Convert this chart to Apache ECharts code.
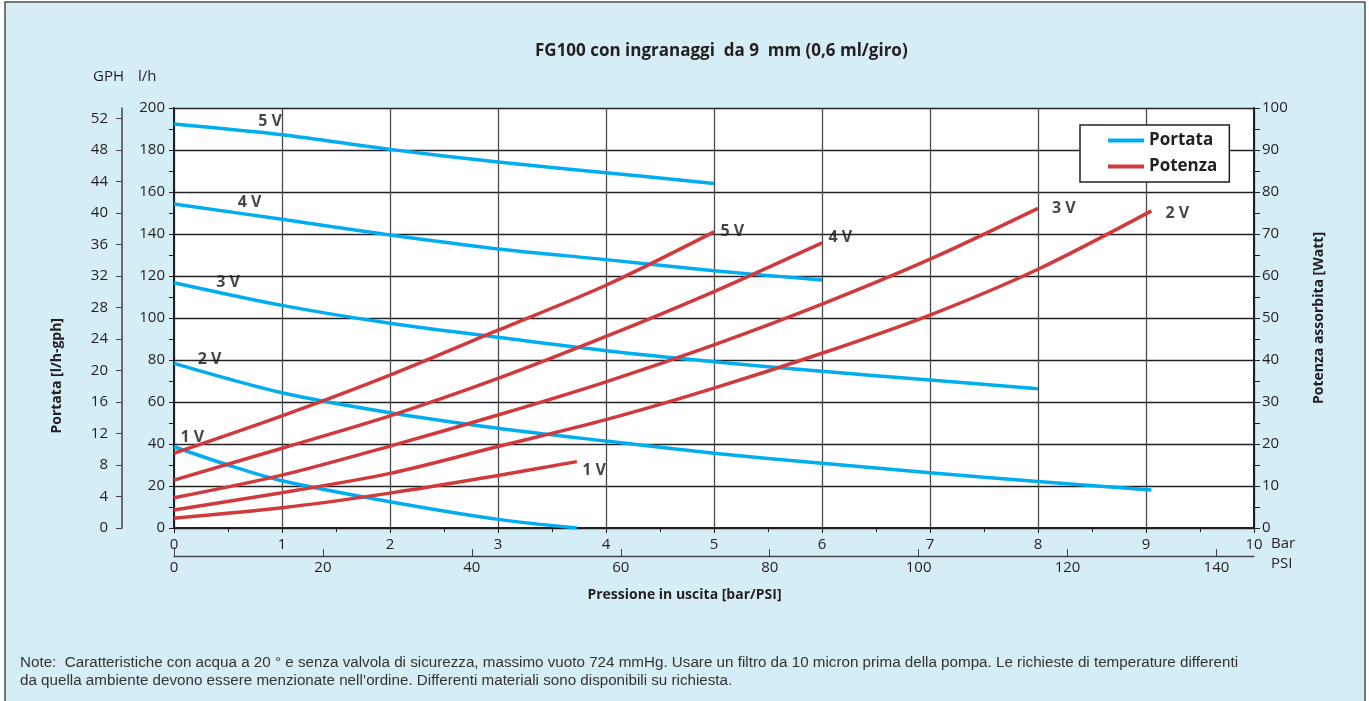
<!DOCTYPE html>
<html>
<head>
<meta charset="utf-8">
<script src="https://cdn.jsdelivr.net/npm/echarts@6/dist/echarts.min.js"></script>
<style>
html,body{margin:0;padding:0;background:#fff;}
#chart{width:1369px;height:701px;}
</style>
</head>
<body>
<div id="chart"></div>
<script>
// ---------- DATA ----------
const titleText = 'FG100 con ingranaggi  da 9  mm (0,6 ml/giro)';
const noteLine1 = 'Note:  Caratteristiche con acqua a 20 ° e senza valvola di sicurezza, massimo vuoto 724 mmHg. Usare un filtro da 10 micron prima della pompa. Le richieste di temperature differenti';
const noteLine2 = 'da quella ambiente devono essere menzionate nell’ordine. Differenti materiali sono disponibili su richiesta.';

const voltages = ['5 V', '4 V', '3 V', '2 V', '1 V'];

// Portata (l/h) vs pressure (bar)
const flowP5 = [0, 1, 2, 3, 4, 5];
const flowV5 = [192.4, 187.3, 180.3, 174.3, 169.2, 164.1];
const flowP4 = [0, 1, 2, 3, 4, 5, 6];
const flowV4 = [154.3, 147.0, 139.5, 132.9, 127.8, 122.5, 118.1];
const flowP3 = [0, 1, 2, 3, 4, 5, 6, 7, 8];
const flowV3 = [116.8, 106.0, 97.5, 90.8, 84.4, 79.2, 74.6, 70.5, 66.3];
const flowP2 = [0, 1, 2, 3, 4, 5, 6, 7, 8, 9.05];
const flowV2 = [78.4, 64.4, 54.9, 47.5, 41.4, 35.6, 30.8, 26.3, 22.1, 18.1];
const flowP1 = [0, 0.5, 1, 2, 3, 3.73];
const flowV1 = [38.7, 30.0, 22.5, 12.5, 4.1, 0];

// Potenza (W) vs pressure (bar)
const powP5 = [0, 1, 2, 3, 4, 5];
const powV5 = [17.8, 26.7, 36.4, 47.1, 57.8, 70.5];
const powP4 = [0, 1, 2, 3, 4, 5, 6];
const powV4 = [11.4, 19.0, 26.7, 35.6, 45.6, 56.3, 67.9];
const powP3 = [0, 1, 2, 3, 4, 5, 6, 7, 8];
const powV3 = [7.2, 12.6, 19.5, 26.9, 34.8, 43.6, 53.3, 64.0, 76.1];
const powP2 = [0, 1, 2, 3, 4, 5, 6, 7, 8, 9.05];
const powV2 = [4.3, 8.4, 13.0, 19.4, 25.8, 33.3, 41.6, 50.7, 61.6, 75.5];
const powP1 = [0, 1, 2, 3, 3.73];
const powV1 = [2.3, 4.8, 8.3, 12.5, 15.8];

// voltage label anchors (bar, value)
const flowLabelP = [0.89, 0.70, 0.50, 0.33, 0.17];
const flowLabelV = [193.8, 154.8, 117.1, 80.5, 42.9];
const powLabelP = [5.17, 6.17, 8.24, 9.29, 3.89];
const powLabelV = [70.7, 69.3, 76.0, 75.0, 13.8];

// axis ticks
const barMax = 10, barStep = 1;
const lhMax = 200, lhStep = 20;
const wattMax = 100, wattStep = 10;
const gphStep = 4;
const LH_PER_GAL = 3.75;
const PSI_PER_BAR = 14.5038;
const psiStep = 20;

// ---------- CHART ----------
const blue = '#00aeef';
const red = '#d03a3c';
const ink = '#231f20';
const FONT = '"Open Sans", "Liberation Sans", sans-serif';

const chart = echarts.init(document.getElementById('chart'), null, {renderer: 'canvas'});

function zip(a, b) { return a.map((x, i) => [x, b[i]]); }

const flowSets = [[flowP5, flowV5], [flowP4, flowV4], [flowP3, flowV3], [flowP2, flowV2], [flowP1, flowV1]];
const powSets = [[powP5, powV5], [powP4, powV4], [powP3, powV3], [powP2, powV2], [powP1, powV1]];

const series = [];
flowSets.forEach(s => series.push({
  name: 'Portata', type: 'line', xAxisIndex: 0, yAxisIndex: 0,
  data: zip(s[0], s[1]), smooth: 0.3, showSymbol: false, symbol: 'none',
  lineStyle: {color: blue, width: 3.5}, itemStyle: {color: blue}, z: 3
}));
powSets.forEach(s => series.push({
  name: 'Potenza', type: 'line', xAxisIndex: 0, yAxisIndex: 1,
  data: zip(s[0], s[1]), smooth: 0.3, showSymbol: false, symbol: 'none',
  lineStyle: {color: red, width: 3.5}, itemStyle: {color: red}, z: 3
}));
const labelStyle = {show: true, position: 'inside', formatter: p => p.data[2],
  fontFamily: FONT, fontWeight: 'bold', fontSize: 16, color: '#1a1718', textBorderWidth: 0};
series.push({
  name: 'flowLabels', type: 'scatter', xAxisIndex: 0, yAxisIndex: 0, symbolSize: 2,
  itemStyle: {color: 'rgba(0,0,0,0)'}, label: labelStyle, z: 5, silent: true,
  data: voltages.map((v, i) => [flowLabelP[i], flowLabelV[i], v])
});
series.push({
  name: 'powLabels', type: 'scatter', xAxisIndex: 0, yAxisIndex: 1, symbolSize: 2,
  itemStyle: {color: 'rgba(0,0,0,0)'}, label: labelStyle, z: 5, silent: true,
  data: voltages.map((v, i) => [powLabelP[i], powLabelV[i], v])
});

const axisLbl = {fontFamily: FONT, fontSize: 15, color: ink};

const option = {
  backgroundColor: '#ffffff',
  animation: false,
  textStyle: {fontFamily: FONT},
  graphic: [
    {type: 'rect', shape: {x: 5, y: 2, width: 1360, height: 720}, z: -10,
      style: {fill: '#d5eef5', stroke: '#4d4d4d', lineWidth: 1.5}},
    {type: 'text', left: 535, top: 43, z: 10,
      style: {text: titleText, font: 'bold 17px ' + FONT, fill: ink}},
    {type: 'text', left: 93, top: 69, style: {text: 'GPH', font: '15px ' + FONT, fill: ink}},
    {type: 'text', left: 138, top: 69, style: {text: 'l/h', font: '15px ' + FONT, fill: ink}},
    {type: 'text', left: 1271, top: 536, style: {text: 'Bar', font: '15px ' + FONT, fill: ink}},
    {type: 'text', left: 1271, top: 556, style: {text: 'PSI', font: '15px ' + FONT, fill: ink}},
    {type: 'text', left: 'center', top: 588, style: {text: 'Pressione in uscita [bar/PSI]', font: 'bold 14px ' + FONT, fill: ink}},
    {type: 'text', left: 50, top: 318, rotation: Math.PI / 2, originX: 0, originY: 0,
      style: {text: 'Portata [l/h-gph]', font: 'bold 14px ' + FONT, fill: ink, align: 'center', verticalAlign: 'middle'}},
    {type: 'text', left: 20, top: 655, style: {text: noteLine1, font: '15.2px "Liberation Sans", Arial, sans-serif', fill: '#333'}},
    {type: 'text', left: 20, top: 673, style: {text: noteLine2, font: '15.2px "Liberation Sans", Arial, sans-serif', fill: '#333'}}
  ],
  legend: {
    data: ['Portata', 'Potenza'], orient: 'vertical', left: 1080, top: 125,
    backgroundColor: '#fff', borderColor: ink, borderWidth: 1.5,
    padding: [7, 12, 7, 28], itemGap: 9, itemWidth: 36, itemHeight: 4, icon: 'rect',
    textStyle: {fontFamily: FONT, fontWeight: 'bold', fontSize: 17, color: ink},
    selectedMode: false
  },
  grid: {left: 174, right: 115, top: 108, bottom: 173, show: true, backgroundColor: '#fff', borderWidth: 0},
  xAxis: [
    {type: 'value', min: 0, max: barMax, interval: barStep, position: 'bottom',
      axisLine: {show: true, onZero: false, lineStyle: {color: ink, width: 2}},
      axisTick: {show: true, length: 5, lineStyle: {color: ink}},
      minorTick: {show: true, splitNumber: 2, length: 4, lineStyle: {color: ink}},
      axisLabel: Object.assign({margin: 9}, axisLbl),
      splitLine: {show: true, lineStyle: {color: '#4a4a4a', width: 1.3}}},
    {type: 'value', min: 0, max: barMax * PSI_PER_BAR, interval: psiStep, position: 'bottom', offset: 28,
      axisLine: {show: true, onZero: false, lineStyle: {color: '#444', width: 1.3}},
      axisTick: {show: true, inside: true, length: 7, lineStyle: {color: '#444'}},
      axisLabel: Object.assign({margin: 4, showMaxLabel: false}, axisLbl),
      splitLine: {show: false}}
  ],
  yAxis: [
    {type: 'value', min: 0, max: lhMax, interval: lhStep, position: 'left',
      axisLine: {show: true, onZero: false, lineStyle: {color: ink, width: 2}},
      axisTick: {show: true, length: 5, lineStyle: {color: ink}},
      minorTick: {show: true, splitNumber: 2, length: 5, lineStyle: {color: ink}},
      axisLabel: Object.assign({margin: 9}, axisLbl),
      splitLine: {show: true, lineStyle: {color: '#222', width: 1.3}}},
    {type: 'value', min: 0, max: wattMax, interval: wattStep, position: 'right',
      name: 'Potenza assorbita [Watt]', nameLocation: 'middle', nameGap: 58, nameRotate: 90,
      nameTextStyle: {fontFamily: FONT, fontWeight: 'bold', fontSize: 14, color: ink},
      axisLine: {show: true, onZero: false, lineStyle: {color: ink, width: 2}},
      axisTick: {show: true, length: 6, lineStyle: {color: ink}},
      minorTick: {show: true, splitNumber: 2, length: 6, lineStyle: {color: ink}},
      axisLabel: Object.assign({margin: 8}, axisLbl),
      splitLine: {show: false}},
    {type: 'value', min: 0, max: lhMax / LH_PER_GAL, interval: gphStep, position: 'left', offset: 52,
      axisLine: {show: true, onZero: false, lineStyle: {color: '#444', width: 1.5}},
      axisTick: {show: true, length: 6, lineStyle: {color: '#444'}},
      axisLabel: Object.assign({margin: 14, showMaxLabel: false}, axisLbl),
      splitLine: {show: false}}
  ],
  series: series
};
chart.setOption(option);
</script>
</body>
</html>
